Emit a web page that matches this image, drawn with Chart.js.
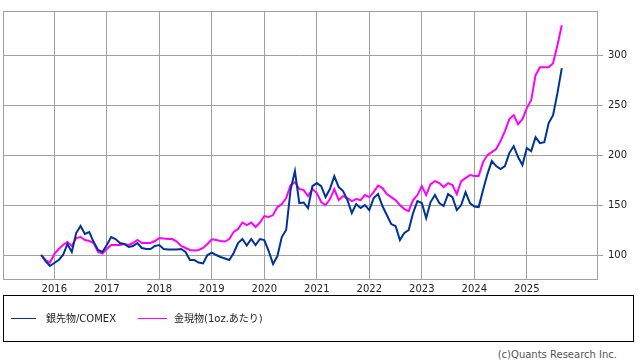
<!DOCTYPE html>
<html>
<head>
<meta charset="utf-8">
<script src="https://cdn.jsdelivr.net/npm/chart.js@4"></script>
<style>
  body { margin: 0; background: #fff; font-family: "DejaVu Sans", "Noto Sans CJK JP", sans-serif; }
  #wrap { position: relative; width: 638px; height: 362px; }
  #chart { position: absolute; left: 0; top: 0; }
  #legend {
    position: absolute; left: 3px; top: 295px; width: 631px; height: 47px;
    border: 1px solid #000; box-sizing: border-box; font-size: 10px; color: #222;
  }
  .item { position: absolute; top: 16px; height: 14px; line-height: 14px; white-space: nowrap; }
  .swatch { position: absolute; top: 22px; height: 1px; }
  #credit { position: absolute; right: 21px; top: 349px; font-size: 10px; color: #555; }
</style>
</head>
<body>
<div id="wrap">
  <canvas id="chart" width="638" height="296"></canvas>
  <div id="legend">
    <span class="swatch" style="left:7px;width:25px;background:#003399"></span>
    <span class="item" style="left:42px">銀先物/COMEX</span>
    <span class="swatch" style="left:134px;width:29px;background:#ff00ff"></span>
    <span class="item" style="left:170px">金現物(1oz.あたり)</span>
  </div>
  <div id="credit">(c)Quants Research Inc.</div>
</div>
<script>
// monthly, Oct 2015 .. Sep 2025, indexed to 100 at start
const startYear = 2015;
const startMonth = 10;

const silver = [
  100, 94, 89, 92, 95, 100, 111, 103, 122, 129, 121, 123, 113, 105, 103,
  110, 118, 116, 112, 111, 108, 109, 112, 107, 106, 106, 109,
  110, 106, 105.5, 105.5, 105.5, 106, 103, 95, 95, 92.5, 91.6, 100,
  102.4, 100, 98, 96.5, 95, 102, 112, 116, 109.5, 116, 110, 116,
  115, 104, 91, 99, 118, 125, 165, 184, 152, 152.6, 147, 169,
  172, 169, 158, 166, 179, 168, 164, 155, 142, 151, 147, 150,
  145, 157, 161, 149, 140, 131, 129, 115, 122, 125, 142, 154,
  152, 137, 153, 160, 152, 149, 161, 158, 145, 150, 163, 152,
  148.5, 148, 165, 181, 194, 189, 186, 189, 202, 209, 198, 190,
  207, 204, 218, 212, 213, 232, 240, 262, 287
];

const gold = [
  100, 95, 92.5, 101, 106, 110, 113, 109, 117, 118, 115, 114, 112, 103, 101.5,
  106, 110, 110, 110, 111, 110, 112, 115, 112, 112, 112, 114,
  117, 116.6, 116, 116, 113.5, 109, 107, 105, 104.5, 105, 107, 111,
  115.7, 115, 114, 113.5, 116, 123, 126, 132.5, 130, 132.5, 128, 132.5,
  139, 138, 140, 148, 151, 157, 170, 173, 166, 165, 159, 166,
  162, 153, 150, 156, 166, 155, 159, 157, 154, 156, 155, 160,
  158, 163, 169.5, 167, 161, 158, 155, 150, 146, 144, 155, 160,
  169, 160, 171, 174, 172, 168, 172, 170, 161, 174, 177, 180,
  179, 179, 193, 200, 203, 206, 214, 224, 236, 240, 231, 236,
  247, 255, 280, 288, 288, 288, 292, 310, 330
];

const yearTicks = [2016, 2017, 2018, 2019, 2020, 2021, 2022, 2023, 2024, 2025];
const yTicks = [100, 150, 200, 250, 300];

const dates = silver.map((_, i) => {
  const m = startMonth - 1 + i;
  return startYear + Math.floor(m / 12) + (m % 12) / 12;
});

const gridColor = "#a0a0a0";
Chart.defaults.font.family = "'DejaVu Sans', 'Noto Sans CJK JP', sans-serif";
Chart.defaults.font.size = 10;
Chart.defaults.color = "#222";

const frame = {
  id: "frame",
  beforeDatasetsDraw(chart) {
    const a = chart.chartArea;
    const ctx = chart.ctx;
    ctx.save();
    ctx.strokeStyle = gridColor;
    ctx.lineWidth = 1;
    ctx.strokeRect(a.left + 0.5, a.top + 0.5, a.right - a.left - 1, a.bottom - a.top - 1);
    ctx.restore();
  },
};

new Chart(document.getElementById("chart"), {
  type: "line",
  data: {
    datasets: [
      {
        label: "銀先物/COMEX",
        data: dates.map((d, i) => ({ x: d, y: silver[i] })),
        borderColor: "#003399",
        borderWidth: 2,
        pointRadius: 0,
        tension: 0,
      },
      {
        label: "金現物(1oz.あたり)",
        data: dates.map((d, i) => ({ x: d, y: gold[i] })),
        borderColor: "#ff00ff",
        borderWidth: 2,
        pointRadius: 0,
        tension: 0,
      },
    ],
  },
  options: {
    responsive: false,
    animation: false,
    layout: { padding: { left: 3, top: 0, right: 0, bottom: 0 } },
    plugins: {
      legend: { display: false },
      tooltip: { enabled: false },
    },
    scales: {
      x: {
        type: "linear",
        min: 2015.023,
        max: 2026.356,
        afterBuildTicks: (scale) => {
          scale.ticks = yearTicks.map((v) => ({ value: v }));
        },
        afterFit: (scale) => {
          scale.height = 16;
        },
        ticks: {
          padding: 3,
          maxRotation: 0,
          callback: (v) => String(v),
        },
        grid: { color: gridColor, drawTicks: false },
        border: { display: false },
      },
      y: {
        position: "right",
        min: 75,
        max: 344.2,
        afterBuildTicks: (scale) => {
          scale.ticks = yTicks.map((v) => ({ value: v }));
        },
        afterFit: (scale) => {
          scale.width = 40;
        },
        ticks: { padding: 5 },
        grid: { color: gridColor, tickLength: 5 },
        border: { display: false },
      },
    },
  },
  plugins: [frame],
});
</script>
</body>
</html>
